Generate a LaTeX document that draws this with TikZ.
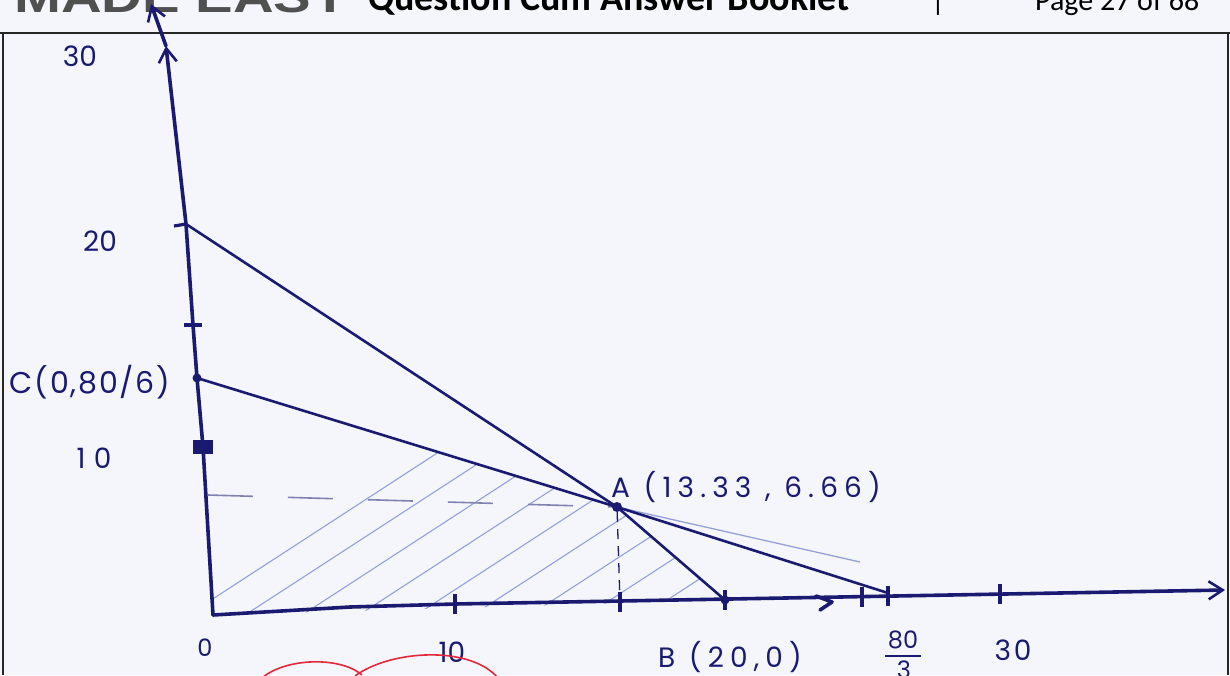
\documentclass[tikz,border=0pt]{standalone}
\usepackage{fontspec}
\setmainfont{Liberation Sans}
\newfontfamily\hand{Poppins}
\newfontfamily\headfont{Carlito}
\usetikzlibrary{arrows.meta}
\definecolor{ink}{RGB}{26,26,112}
\definecolor{hatchc}{RGB}{150,160,215}
\definecolor{paper}{RGB}{244,246,252}
\definecolor{redink}{RGB}{228,40,60}
\definecolor{logo}{RGB}{80,80,80}
\begin{document}
\begin{tikzpicture}[x=1pt,y=-1pt,
  axisline/.style={ink, line width=3.6pt, line cap=round, line join=round},
  curve/.style={ink, line width=2.6pt, line cap=round},
  tickmark/.style={ink, line width=3.2pt},
  dot/.style={circle, fill=ink, inner sep=0pt, minimum size=10pt},
  hand/.style={ink, font=\hand\fontsize{28}{30}\selectfont, inner sep=0pt},
  wide/.style={font=\hand\fontsize{28}{30}\selectfont\addfontfeature{LetterSpace=22}},
  hatchline/.style={hatchc, line width=1.1pt},
  dashline/.style={ink!55, line width=1.6pt, dash pattern=on 45pt off 35pt},
  arrowtip/.style={-{Straight Barb[length=14pt,width=18pt,line width=2.6pt]}},
  frame/.style={black!85, line width=1.8pt}]
\useasboundingbox (0,0) rectangle (1230,675);
\fill[paper] (0,0) rectangle (1230,675);

% header
\node[anchor=base west, font=\fontsize{44}{44}\selectfont\bfseries, text=logo, inner sep=0pt, xscale=1.28] (logo) at (14,12) {MADE EASY};
\node[anchor=base west, font=\headfont\fontsize{38}{38}\selectfont\bfseries, inner sep=0pt] (title) at (368,10) {Question Cum Answer Booklet};
\node[anchor=base, font=\headfont\fontsize{30}{30}\selectfont, inner sep=0pt] (bar) at (938,10) {|};
\node[anchor=base west, font=\headfont\fontsize{30}{30}\selectfont, inner sep=0pt] (page) at (1035,10) {Page 27 of 68};
\draw[frame] (0,33) -- (1230,33);
\draw[frame] (3,33) -- (3,675);
\draw[frame] (1228,33) -- (1228,675);

% key points
\coordinate (O) at (213,615);
\coordinate (Ytop) at (151,4);
\coordinate (Ymid) at (166,46);
\coordinate (Xend) at (1225,590);
\coordinate (Y20) at (186,224);
\coordinate (X803) at (888,593);
\node[dot, minimum size=9pt] (C) at (197,378) {};
\node[dot] (A) at (617,507) {};
\node[dot, minimum size=9pt] (B) at (725,600) {};

% hatching of the feasible region
\begin{scope}
  \clip (O) -- (C.center) -- (A.center) -- (B.center) -- cycle;
  \foreach \s in {165,222,...,900}
    \draw[hatchline] (\s,630) -- ++(560,-364);
\end{scope}

% dashed guides
\draw[dashline] (208,495) -- (A);
\draw[ink, line width=1.3pt, dash pattern=on 10pt off 7pt] (A) -- (620,602);

% faint extra line
\draw[hatchc, line width=1.3pt] (A) -- (860,562);

% constraint lines
\draw[curve] (Y20) -- (A.center) -- (B.center);
\draw[curve] (C.center) -- (A.center) -- (X803);

% axes
\draw[axisline, arrowtip] (O) -- (203,447) -- (C.center) -- (193,325) -- (Y20) -- (Ymid);
\draw[axisline, arrowtip] (Ymid) -- (Ytop);
\draw[axisline, arrowtip] (O) -- (350,607) -- (455,604) -- (Xend);
\draw[axisline] (816,596) -- (832,602) -- (820,610);

% ticks on x axis
\foreach \x/\y in {455/604, 620/602, 725/600, 862/597, 888/596, 1000/594}
  \draw[tickmark] (\x,\y-10) -- (\x,\y+10);
% ticks on y axis
\draw[tickmark] (Y20) ++(-12,2) -- ++(12,-2);
\draw[tickmark] (193,325) ++(-9,0) -- ++(18,0);
\fill[ink] (193,440) rectangle (213,454);

% labels
\node[hand] (l30) at (80,56) {30};
\node[hand] (l20) at (100,241) {20};
\node[hand, font=\hand\fontsize{30}{32}\selectfont\addfontfeature{LetterSpace=6}] (lC) at (90,382) {C(0,80/6)};
\node[hand, font=\hand\fontsize{28}{30}\selectfont\addfontfeature{LetterSpace=30}] (l10) at (94,458) {10};
\node[hand, wide] (lA) at (746,487) {A (13.33 , 6.66)};
\node[hand, font=\hand\fontsize{24}{26}\selectfont] (l0) at (205,648) {0};
\node[hand] (lx10) at (452,652) {10};
\node[hand, wide] (lB) at (730,657) {B (20,0)};
\node[hand, font=\hand\fontsize{24}{26}\selectfont] (l80) at (903,640) {80};
\draw[ink, line width=1.8pt] (885,656) -- (921,656);
\node[hand, font=\hand\fontsize{24}{26}\selectfont] (l3) at (904,670) {3};
\node[hand, font=\hand\fontsize{28}{30}\selectfont\addfontfeature{LetterSpace=10}] (lx30) at (1013,650) {30};

% red marks
\draw[redink, line width=1.6pt] (262,678) .. controls (285,658) and (340,656) .. (362,675);
\draw[redink, line width=1.6pt] (355,676) .. controls (390,650) and (470,645) .. (498,678);
\end{tikzpicture}
\end{document}
